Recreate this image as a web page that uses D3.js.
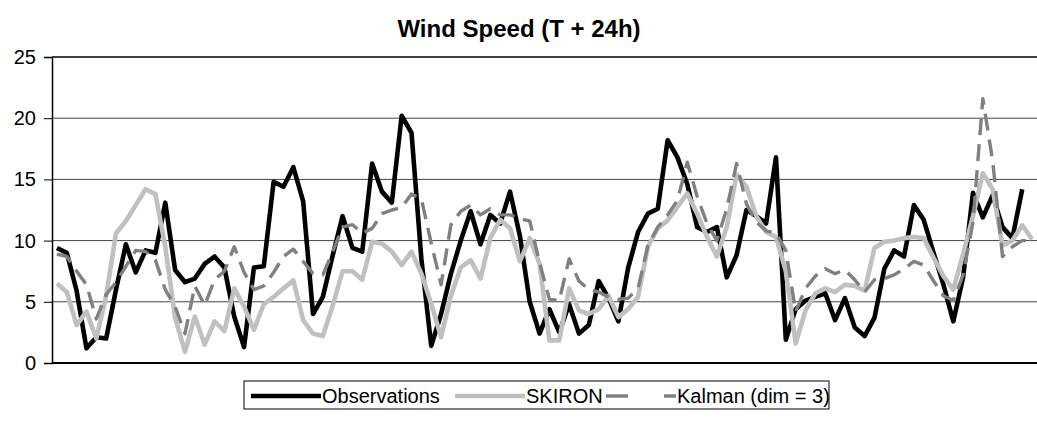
<!DOCTYPE html>
<html lang="en">
<head>
<meta charset="UTF-8" />
<title>Wind Speed (T + 24h)</title>
<script src="https://cdn.jsdelivr.net/npm/d3@7"></script>
<style>
  body { margin: 0; background: #fff; }
  svg { display: block; font-family: "Liberation Sans", Arial, sans-serif; }
</style>
</head>
<body>
<div id="app"></div>
<script>
// data (one value per forecast day)
const observations = [9.4, 9.0, 5.9, 1.2, 2.1, 2.0, 6.0, 9.7, 7.4, 9.2,
  9.0, 13.1, 7.6, 6.6, 6.9, 8.1, 8.7, 7.8, 3.8, 1.3,
  7.8, 7.9, 14.8, 14.4, 16.0, 13.2, 4.0, 5.4, 8.8, 12.0,
  9.4, 9.1, 16.3, 14.0, 13.1, 20.2, 18.8, 8.5, 1.4, 4.0,
  7.3, 10.0, 12.4, 9.7, 12.1, 11.4, 14.0, 10.4, 5.0, 2.4,
  4.4, 2.5, 4.8, 2.4, 3.1, 6.7, 5.3, 3.4, 7.8, 10.7,
  12.2, 12.6, 18.2, 16.8, 14.6, 11.1, 10.7, 11.1, 7.0, 8.8,
  12.5, 12.0, 11.4, 16.8, 1.9, 4.4, 5.1, 5.4, 5.7, 3.5,
  5.3, 2.9, 2.2, 3.7, 7.7, 9.2, 8.7, 12.9, 11.7, 9.0,
  6.4, 3.4, 7.0, 13.9, 11.9, 13.7, 11.1, 10.2, 14.2, null];

const skiron = [6.5, 5.8, 3.1, 4.2, 2.0, 5.5, 10.6, 11.6, 12.9, 14.2,
  13.8, 9.5, 3.7, 0.9, 3.8, 1.5, 3.4, 2.6, 6.1, 4.6,
  2.7, 4.8, 5.4, 6.1, 6.75, 3.5, 2.4, 2.2, 4.7, 7.5,
  7.5, 6.8, 9.9, 9.75, 9.1, 8.0, 9.1, 7.3, 4.85, 2.1,
  5.5, 7.8, 8.4, 6.9, 10.2, 11.7, 11.0, 8.3, 10.2, 8.1,
  1.85, 1.85, 6.1, 4.3, 4.0, 4.4, 5.5, 3.75, 4.4, 5.4,
  9.5, 11.0, 11.65, 12.75, 13.85, 12.2, 10.3, 8.7, 11.1, 15.4,
  14.4, 12.0, 10.7, 10.3, 7.5, 1.6, 4.3, 5.7, 6.1, 5.8,
  6.4, 6.3, 5.9, 9.4, 9.9, 10.0, 10.2, 10.3, 10.2, 8.6,
  7.1, 6.0, 8.9, 12.0, 15.5, 14.2, 9.6, 10.0, 11.25, 10.1];

const kalman = [8.9, 8.7, 7.5, 6.4, 3.6, 5.6, 6.6, 7.9, 9.2, 9.1,
  8.4, 6.0, 4.6, 2.4, 6.3, 4.7, 6.8, 7.5, 9.5, 7.4,
  6.0, 6.3, 7.4, 8.7, 9.3, 8.3, 7.3, 7.2, 9.1, 11.1,
  11.3, 10.6, 11.0, 12.2, 12.5, 12.7, 13.8, 13.4, 9.8, 6.4,
  11.3, 12.4, 12.9, 12.1, 12.6, 12.1, 12.1, 11.8, 11.6, 8.2,
  5.2, 5.1, 8.5, 6.7, 6.0, 5.8, 5.4, 5.2, 5.3, 6.1,
  9.6, 11.1, 12.1, 13.3, 16.4, 13.6, 11.4, 10.0, 12.6, 16.3,
  13.0, 11.5, 10.8, 10.6, 9.2, 4.2, 6.1, 7.1, 7.7, 7.3,
  7.6, 6.8, 5.8, 6.8, 6.9, 7.2, 7.7, 8.3, 8.0, 6.7,
  5.5, 5.1, 7.2, 11.5, 21.6, 16.5, 8.7, 9.5, 10.0, 10.0];

const days = d3.range(1, observations.length + 1);
const yTicks = [0, 5, 10, 15, 20, 25];

const seriesNames = ["Observations", "SKIRON", "Kalman (dim = 3)"];

// svg
const w = 1037;
const h = 421;
const plotL = 52, plotR = 1037, plotT = 57, plotB = 363;

const svg = d3.select("#app")
  .append("svg")
  .attr("width", w)
  .attr("height", h);

svg.append("text")
  .attr("x", 519)
  .attr("y", 37)
  .attr("text-anchor", "middle")
  .style("font-size", "24px")
  .style("font-weight", "bold")
  .text("Wind Speed (T + 24h)");

// scales
const xScale = d3.scalePoint()
  .domain(days)
  .range([plotL, plotR])
  .padding(0.5);

const yScale = d3.scaleLinear()
  .domain([0, 25])
  .range([plotB, plotT]);

// gridlines
svg.append("g")
  .selectAll("line")
  .data(yTicks.filter(t => t > 0))
  .enter()
  .append("line")
  .attr("x1", plotL)
  .attr("x2", plotR)
  .attr("y1", d => yScale(d))
  .attr("y2", d => yScale(d))
  .attr("stroke", d => d === 25 ? "#000" : "#444")
  .attr("stroke-width", d => d === 25 ? 1.5 : 1);

// y axis
const yAxis = d3.axisLeft(yScale)
  .tickValues(yTicks)
  .tickSize(8)
  .tickPadding(8);

svg.append("g")
  .attr("transform", "translate(" + plotL + ",0)")
  .call(yAxis)
  .call(g => g.select(".domain").attr("stroke-width", 1.5))
  .call(g => g.selectAll("text")
    .style("font-size", "20px")
    .style("font-family", "\"Liberation Sans\", Arial, sans-serif")
    .attr("fill", "#000"));

// x axis line
svg.append("line")
  .attr("x1", plotL)
  .attr("x2", plotR)
  .attr("y1", plotB)
  .attr("y2", plotB)
  .attr("stroke", "#000")
  .attr("stroke-width", 2);

// lines
const series = [
  { name: seriesNames[0], values: observations, color: "#000000", width: 4.6, dash: null },
  { name: seriesNames[1], values: skiron, color: "#c0c0c0", width: 4.6, dash: null },
  { name: seriesNames[2], values: kalman, color: "#808080", width: 3.4, dash: "17,9" }
];

const line = d3.line()
  .defined(d => d.v !== null)
  .x(d => xScale(d.day))
  .y(d => yScale(d.v));

series.forEach(s => {
  svg.append("path")
    .datum(s.values.map((v, i) => ({ day: days[i], v: v })))
    .attr("fill", "none")
    .attr("stroke", s.color)
    .attr("stroke-width", s.width)
    .attr("stroke-linejoin", "round")
    .attr("stroke-dasharray", s.dash)
    .attr("d", line);
});

// legend
const legend = svg.append("g");

legend.append("rect")
  .attr("x", 244)
  .attr("y", 381)
  .attr("width", 585)
  .attr("height", 28)
  .attr("fill", "#fff")
  .attr("stroke", "#000")
  .attr("stroke-width", 1);

const legPos = [251, 455, 606];

legend.selectAll(".leg-line")
  .data(series)
  .enter()
  .append("line")
  .attr("x1", (d, i) => legPos[i])
  .attr("x2", (d, i) => legPos[i] + 70)
  .attr("y1", 396)
  .attr("y2", 396)
  .attr("stroke", d => d.color)
  .attr("stroke-width", d => d.width)
  .attr("stroke-dasharray", d => d.dash ? "22,36,12" : null);

legend.selectAll(".leg-text")
  .data(series)
  .enter()
  .append("text")
  .attr("x", (d, i) => legPos[i] + 71)
  .attr("y", 403)
  .style("font-size", "20px")
  .text(d => d.name);
</script>
</body>
</html>
